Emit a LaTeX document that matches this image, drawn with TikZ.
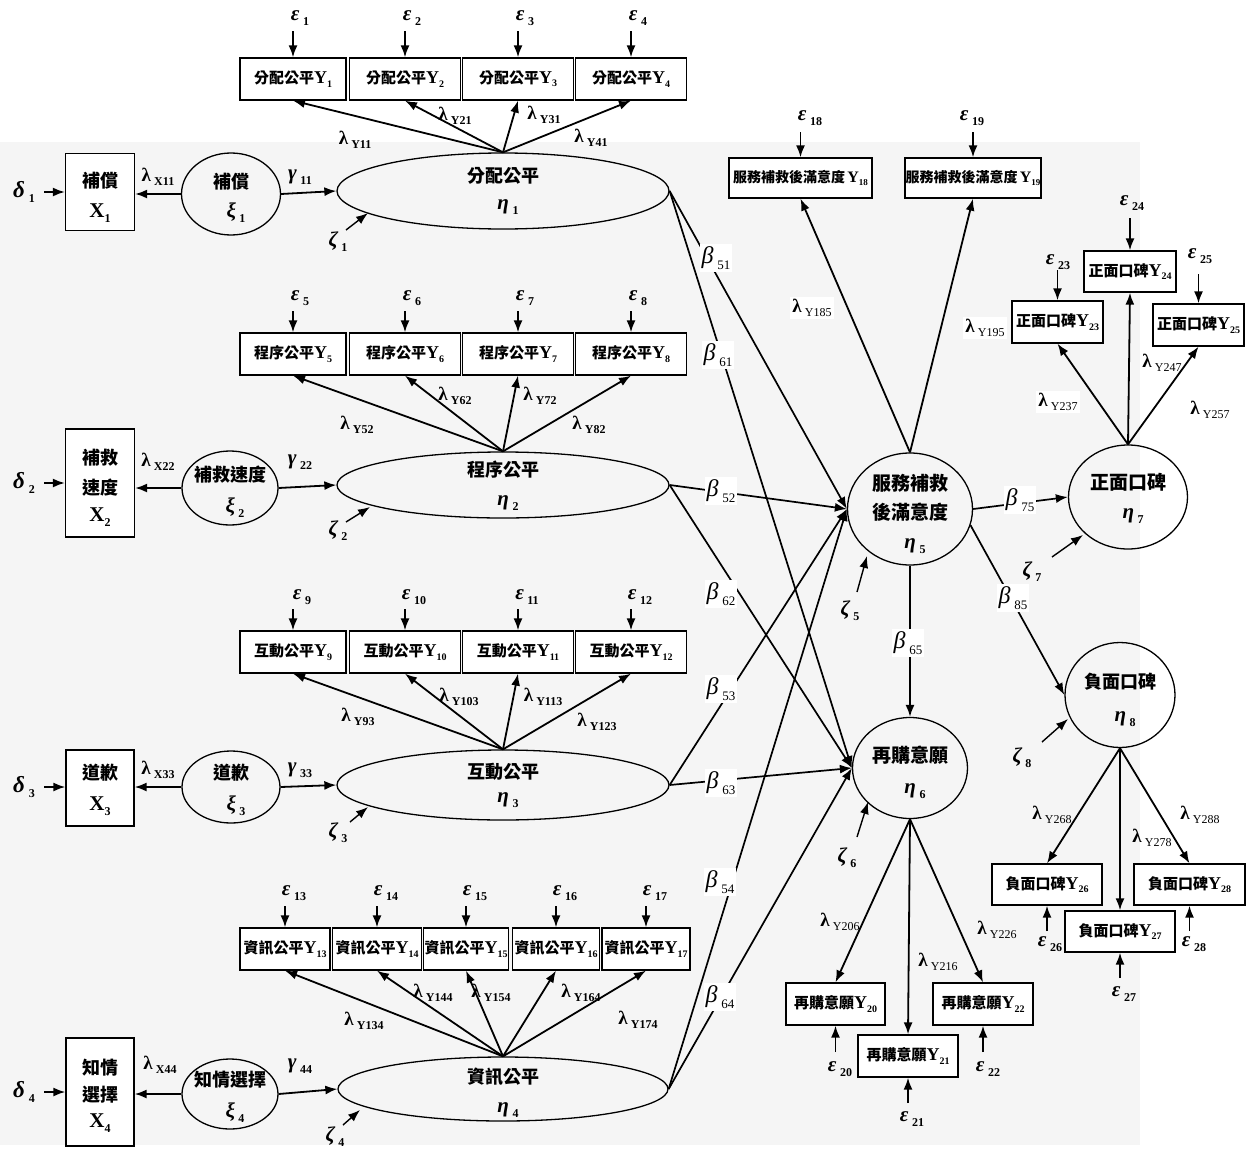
\documentclass[tikz,border=0pt]{standalone}
\usepackage{fontspec}
\setmainfont{Liberation Serif}
\newfontfamily\cjk{Noto Sans CJK TC}
\usetikzlibrary{shapes.geometric,arrows.meta}

% lowered subscript, Greek symbol with subscript, loading label, CJK text, indicator text
\newcommand\lo[2][10]{\raisebox{-0.5ex}{\fontsize{#1}{#1}\selectfont\bfseries #2}}
\newcommand\gk[3][12]{{\bfseries\itshape #2}\,\lo[#1]{#3}}
\newcommand\lam[1]{{\bfseries λ}\,\lo[12]{#1}}
\newcommand\lamr[1]{{\bfseries λ}\,\raisebox{-0.5ex}{\fontsize{12}{12}\selectfont #1}}
\newcommand\bet[1]{{\itshape β}\,\raisebox{-0.6ex}{\fontsize{13}{13}\selectfont #1}}
\newcommand\zh[1]{{\cjk\bfseries #1}}
\newcommand\mv[2]{\zh{#1}{\fontsize{18}{18}\selectfont\bfseries Y}\lo{#2}}

\begin{document}
\begin{tikzpicture}[x=1pt,y=-1pt,
  ind/.style={draw, fill=white, line width=1.3pt, minimum height=42pt, inner sep=0pt, font=\fontsize{15}{17}\selectfont},
  obs/.style={draw, fill=white, line width=1.3pt, inner sep=0pt},
  lat/.style={draw, ellipse, line width=1.3pt, inner sep=0pt},
  arr/.style={-{Latex[length=12pt,width=9pt]}, line width=1.8pt},
  barr/.style={-{Latex[length=12pt,width=9pt]}, line width=1.7pt},
  ztxt/.style={inner sep=0pt, font=\fontsize{18}{18}\selectfont},
  bigz/.style={inner sep=0pt, font=\fontsize{19}{19}\selectfont},
  gtxt/.style={inner sep=0pt, font=\fontsize{21}{21}\selectfont},
  lbl/.style={inner sep=1pt, font=\fontsize{19}{19}\selectfont},
  wlbl/.style={lbl, fill=white, inner sep=2pt},
  btxt/.style={fill=white, inner sep=2pt, font=\fontsize{24}{24}\selectfont}]
\useasboundingbox (0,0) rectangle (1258,1151);
\fill[white] (0,0) rectangle (1258,1151);
\fill[black!4] (0,142) rectangle (1140,1145);

% ---------- endogenous justice factors ----------
\node[lat, minimum width=332pt, minimum height=76pt] (eta1) at (503,191) {};
\node[ztxt] (eta1a) at (503,176) {\zh{分配公平}};
\node[gtxt] (eta1b) at (508,207) {\gk{η}{1}};
\node[lat, minimum width=332pt, minimum height=66pt] (eta2) at (503,485) {};
\node[ztxt] (eta2a) at (503,470) {\zh{程序公平}};
\node[gtxt] (eta2b) at (508,503) {\gk{η}{2}};
\node[lat, minimum width=332pt, minimum height=70pt] (eta3) at (503,785) {};
\node[ztxt] (eta3a) at (503,772) {\zh{互動公平}};
\node[gtxt] (eta3b) at (508,800) {\gk{η}{3}};
\node[lat, minimum width=330pt, minimum height=64pt] (eta4) at (503,1089) {};
\node[ztxt] (eta4a) at (503,1077) {\zh{資訊公平}};
\node[gtxt] (eta4b) at (508,1110) {\gk{η}{4}};

% ---------- outcome factors ----------
\node[lat, minimum width=125pt, minimum height=112pt] (eta5) at (910,509) {};
\node[bigz] (eta5a) at (910,483) {\zh{服務補救}};
\node[bigz] (eta5b) at (910,512) {\zh{後滿意度}};
\node[gtxt] (eta5c) at (915,546) {\gk{η}{5}};
\node[lat, minimum width=115pt, minimum height=101pt] (eta6) at (910,768) {};
\node[bigz] (eta6a) at (910,755) {\zh{再購意願}};
\node[gtxt] (eta6b) at (915,791) {\gk{η}{6}};
\node[lat, minimum width=119pt, minimum height=104pt] (eta7) at (1128,497) {};
\node[bigz] (eta7a) at (1128,482) {\zh{正面口碑}};
\node[gtxt] (eta7b) at (1133,516) {\gk{η}{7}};
\node[lat, minimum width=110pt, minimum height=105pt] (eta8) at (1120,695) {};
\node[ztxt] (eta8a) at (1120,682) {\zh{負面口碑}};
\node[gtxt] (eta8b) at (1125,719) {\gk{η}{8}};

% ---------- exogenous factors and their single indicators ----------
\node[lat, minimum width=99pt, minimum height=82pt] (xi1) at (231,194) {};
\node[ztxt] (xi1a) at (231,182) {\zh{補償}};
\node[gtxt] (xi1b) at (236,213) {\gk{ξ}{1}};
\node[lat, minimum width=96pt, minimum height=74pt] (xi2) at (230,488) {};
\node[ztxt] (xi2a) at (230,475) {\zh{補救速度}};
\node[gtxt] (xi2b) at (235,508) {\gk{ξ}{2}};
\node[lat, minimum width=98pt, minimum height=72pt] (xi3) at (231,787) {};
\node[ztxt] (xi3a) at (231,773) {\zh{道歉}};
\node[gtxt] (xi3b) at (236,806) {\gk{ξ}{3}};
\node[lat, minimum width=96pt, minimum height=70pt] (xi4) at (230,1094) {};
\node[ztxt] (xi4a) at (230,1080) {\zh{知情選擇}};
\node[gtxt] (xi4b) at (235,1113) {\gk{ξ}{4}};

\node[obs, minimum width=69pt, minimum height=77pt] (x1) at (100,192) {};
\node[ztxt] (x1a) at (100,181) {\zh{補償}};
\node[inner sep=0pt, font=\fontsize{21}{21}\selectfont] (x1b) at (100,213) {\bfseries X\lo[12]{1}};
\node[obs, minimum width=69pt, minimum height=108pt] (x2) at (100,483) {};
\node[ztxt] (x2a) at (100,458) {\zh{補救}};
\node[ztxt] (x2c) at (100,488) {\zh{速度}};
\node[inner sep=0pt, font=\fontsize{21}{21}\selectfont] (x2b) at (100,517) {\bfseries X\lo[12]{2}};
\node[obs, minimum width=68pt, minimum height=76pt] (x3) at (100,788) {};
\node[ztxt] (x3a) at (100,773) {\zh{道歉}};
\node[inner sep=0pt, font=\fontsize{21}{21}\selectfont] (x3b) at (100,806) {\bfseries X\lo[12]{3}};
\node[obs, minimum width=68pt, minimum height=108pt] (x4) at (100,1092) {};
\node[ztxt] (x4a) at (100,1068) {\zh{知情}};
\node[ztxt] (x4c) at (100,1095) {\zh{選擇}};
\node[inner sep=0pt, font=\fontsize{21}{21}\selectfont] (x4b) at (100,1123) {\bfseries X\lo[12]{4}};

% measurement errors of the X indicators, loadings and structural paths
\foreach \k/\r in {1/192,2/483,3/787,4/1092}{
  \node[gtxt, font=\fontsize{23}{23}\selectfont] (d\k) at (24,\r) {\gk{δ}{\k}};
  \coordinate (d\k t) at (44,\r);
  \draw[arr] (d\k t) -- (d\k t -| x\k.west);
  \draw[arr] (xi\k.west) -- (xi\k.west -| x\k.east);
  \draw[arr] (xi\k.east) -- (eta\k.west);
}
\node[lbl] (lx1) at (158,177) {\lam{X11}};
\node[lbl] (lx2) at (158,462) {\lam{X22}};
\node[lbl] (lx3) at (158,770) {\lam{X33}};
\node[lbl] (lx4) at (160,1065) {\lam{X44}};
\node[gtxt] (g1) at (300,177) {\gk{γ}{11}};
\node[gtxt] (g2) at (300,462) {\gk{γ}{22}};
\node[gtxt] (g3) at (300,770) {\gk{γ}{33}};
\node[gtxt] (g4) at (300,1066) {\gk{γ}{44}};

% disturbances of the justice factors
\foreach \k/\lx/\ly/\ax/\ay/\bx/\by in {1/338/242/346/230/368/213, 2/338/531/346/522/370/507,
    3/338/833/350/822/368/807, 4/335/1137/343/1125/360/1110}{
  \node[gtxt] (z\k) at (\lx,\ly) {\gk{ζ}{\k}};
  \coordinate (z\k s) at (\ax,\ay);
  \coordinate (z\k t) at (\bx,\by);
  \draw[arr, line width=1.4pt] (z\k s) -- (z\k t);
}

% ---------- indicator blocks of the justice factors ----------
\foreach \i/\x/\w in {1/293/106,2/405/111,3/518/111,4/631/111}{
  \node[ind, minimum width=\w pt] (y\i) at (\x,79) {\mv{分配公平}{\i}};
  \node[gtxt] (e\i) at (\x+7,18) {\gk{ε}{\i}};
  \coordinate (e\i t) at (\x,31);
  \draw[arr] (e\i t) -- (y\i.north);
  \draw[arr] (eta1.north) -- (y\i.south);
}
\foreach \i/\x/\w in {5/293/106,6/405/111,7/518/111,8/631/111}{
  \node[ind, minimum width=\w pt] (y\i) at (\x,354) {\mv{程序公平}{\i}};
  \node[gtxt] (e\i) at (\x+7,298) {\gk{ε}{\i}};
  \coordinate (e\i t) at (\x,311);
  \draw[arr] (e\i t) -- (y\i.north);
  \draw[arr] (eta2.north) -- (y\i.south);
}
\foreach \i/\x/\w in {9/293/106,10/405/111,11/518/111,12/631/111}{
  \node[gtxt] (e\i) at (\x+9,597) {\gk{ε}{\i}};
  \node[ind, minimum width=\w pt] (y\i) at (\x,652) {\mv{互動公平}{\i}};
  \coordinate (e\i t) at (\x,609);
  \draw[arr] (e\i t) -- (y\i.north);
  \draw[arr] (eta3.north) -- (y\i.south);
}
\foreach \i/\x/\w in {13/285/90,14/377/89,15/466/85,16/556/87,17/646/88}{
  \node[ind, minimum width=\w pt] (y\i) at (\x,949) {\mv{資訊公平}{\i}};
  \node[gtxt] (e\i) at (\x+9,893) {\gk{ε}{\i}};
  \coordinate (e\i t) at (\x,906);
  \draw[arr] (e\i t) -- (y\i.north);
  \draw[arr] (eta4.north) -- (y\i.south);
}
\node[lbl] (l11) at (355,140) {\lam{Y11}};
\node[lbl] (l21) at (455,116) {\lam{Y21}};
\node[lbl] (l31) at (544,115) {\lam{Y31}};
\node[lbl] (l41) at (591,138) {\lam{Y41}};
\node[lbl] (l52) at (357,425) {\lam{Y52}};
\node[lbl] (l62) at (455,396) {\lam{Y62}};
\node[lbl] (l72) at (540,396) {\lam{Y72}};
\node[lbl] (l82) at (589,425) {\lam{Y82}};
\node[lbl] (l93) at (358,717) {\lam{Y93}};
\node[lbl] (l103) at (459,697) {\lam{Y103}};
\node[lbl] (l113) at (543,697) {\lam{Y113}};
\node[lbl] (l123) at (597,722) {\lam{Y123}};
\node[lbl] (l134) at (364,1021) {\lam{Y134}};
\node[lbl] (l144) at (433,993) {\lam{Y144}};
\node[lbl] (l154) at (491,993) {\lam{Y154}};
\node[lbl] (l164) at (581,993) {\lam{Y164}};
\node[lbl] (l174) at (638,1020) {\lam{Y174}};

% ---------- structural paths to the outcomes ----------
\foreach \k in {1,2,3,4}{
  \draw[barr] (eta\k.east) -- (eta5.west);
  \draw[barr] (eta\k.east) -- (eta6.west);
}
\draw[arr, line width=1.7pt] (eta5.south) -- (eta6.north);
\draw[arr, line width=1.7pt] (eta5.east) -- (eta7.west);
\draw[arr, line width=1.7pt] (eta5.-15) -- (eta8.west);
\node[btxt] (b51) at (716,258) {\bet{51}};
\node[btxt] (b61) at (718,355) {\bet{61}};
\node[btxt] (b52) at (721,491) {\bet{52}};
\node[btxt] (b62) at (721,594) {\bet{62}};
\node[btxt] (b53) at (721,689) {\bet{53}};
\node[btxt] (b63) at (721,783) {\bet{63}};
\node[btxt] (b54) at (720,882) {\bet{54}};
\node[btxt] (b64) at (720,997) {\bet{64}};
\node[btxt] (b65) at (908,643) {\bet{65}};
\node[btxt] (b75) at (1020,500) {\bet{75}};
\node[btxt] (b85) at (1013,598) {\bet{85}};

% disturbances of the outcomes
\foreach \k/\lx/\ly/\ax/\ay/\bx/\by in {5/850/611/857/592/867/556, 6/847/858/857/837/868/802,
    7/1032/572/1052/557/1083/535, 8/1022/758/1042/742/1068/719}{
  \node[gtxt] (z\k) at (\lx,\ly) {\gk{ζ}{\k}};
  \coordinate (z\k s) at (\ax,\ay);
  \coordinate (z\k t) at (\bx,\by);
  \draw[arr, line width=1.4pt] (z\k s) -- (z\k t);
}

% ---------- outcome indicators ----------
\node[ind, minimum width=143pt, minimum height=40pt, font=\fontsize{14}{16}\selectfont] (y18) at (800.5,178)
  {\zh{服務補救後滿意度}\,{\fontsize{16}{16}\selectfont\bfseries Y}\lo[9]{18}};
\node[ind, minimum width=136pt, minimum height=40pt, font=\fontsize{14}{16}\selectfont] (y19) at (973,178)
  {\zh{服務補救後滿意度}\,{\fontsize{16}{16}\selectfont\bfseries Y}\lo[9]{19}};
\node[ind, minimum width=91pt, minimum height=42pt] (y23) at (1057.5,322) {\mv{正面口碑}{23}};
\node[ind, minimum width=92pt, minimum height=41pt] (y24) at (1130,271.5) {\mv{正面口碑}{24}};
\node[ind, minimum width=91pt, minimum height=42pt] (y25) at (1198.5,325) {\mv{正面口碑}{25}};
\node[ind, minimum width=110pt, minimum height=41pt] (y26) at (1047,884.5) {\mv{負面口碑}{26}};
\node[ind, minimum width=110pt, minimum height=41pt] (y27) at (1120,931.5) {\mv{負面口碑}{27}};
\node[ind, minimum width=111pt, minimum height=41pt] (y28) at (1189.5,884.5) {\mv{負面口碑}{28}};
\node[ind, minimum width=99pt, minimum height=42pt] (y20) at (835.5,1004) {\mv{再購意願}{20}};
\node[ind, minimum width=100pt, minimum height=42pt] (y21) at (908,1056) {\mv{再購意願}{21}};
\node[ind, minimum width=100pt, minimum height=42pt] (y22) at (983,1004) {\mv{再購意願}{22}};

\foreach \i in {18,19}{\draw[arr] (eta5.north) -- (y\i.south);}
\foreach \i in {23,24,25}{\draw[arr] (eta7.north) -- (y\i.south);}
\foreach \i in {26,27,28}{\draw[arr] (eta8.south) -- (y\i.north);}
\foreach \i in {20,21,22}{\draw[arr] (eta6.south) -- (y\i.north);}

% error terms entering from above
\foreach \i/\lx/\ly/\ax/\ay in {18/810/118/800.5/132, 19/972/118/973/132, 23/1058/262/1057.5/270,
    24/1132/203/1130/218, 25/1200/256/1198.5/274}{
  \node[gtxt] (e\i) at (\lx,\ly) {\gk{ε}{\i}};
  \coordinate (e\i t) at (\ax,\ay);
  \draw[arr] (e\i t) -- (y\i.north);
}
% error terms entering from below
\foreach \i/\lx/\ly/\ax/\ay in {26/1050/944/1047/931, 27/1124/994/1120/978, 28/1194/944/1189.5/931,
    20/840/1069/835.5/1052, 21/912/1119/908/1103, 22/988/1069/983/1052}{
  \node[gtxt] (e\i) at (\lx,\ly) {\gk{ε}{\i}};
  \coordinate (e\i t) at (\ax,\ay);
  \draw[arr] (e\i t) -- (y\i.south);
}

\node[wlbl] (l185) at (812,308) {\lamr{Y185}};
\node[wlbl] (l195) at (985,328) {\lamr{Y195}};
\node[wlbl] (l237) at (1058,402) {\lamr{Y237}};
\node[lbl] (l247) at (1162,363) {\lamr{Y247}};
\node[lbl] (l257) at (1210,410) {\lamr{Y257}};
\node[lbl] (l206) at (840,922) {\lamr{Y206}};
\node[lbl] (l216) at (938,962) {\lamr{Y216}};
\node[lbl] (l226) at (997,930) {\lamr{Y226}};
\node[lbl] (l268) at (1052,815) {\lamr{Y268}};
\node[lbl] (l278) at (1152,838) {\lamr{Y278}};
\node[lbl] (l288) at (1200,815) {\lamr{Y288}};
\end{tikzpicture}
\end{document}
